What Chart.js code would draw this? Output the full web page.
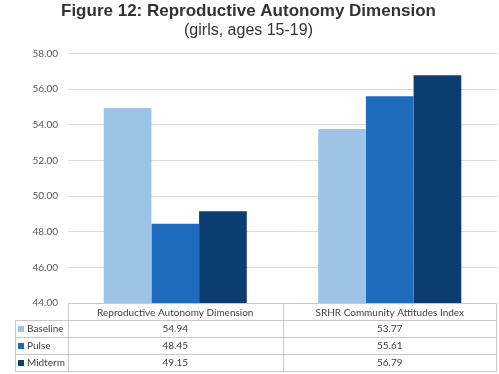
<!DOCTYPE html>
<html lang="en">
<head>
<meta charset="UTF-8">
<title>Figure 12</title>
<script src="https://cdn.jsdelivr.net/npm/chart.js"></script>
<style>
  body { margin: 0; background: #fff; }
  .chartBox { width: 499px; height: 374px; }
</style>
</head>
<body>
<div class="chartBox"><canvas id="myChart"></canvas></div>
<script>
// data
const categories = ['Reproductive Autonomy Dimension', 'SRHR Community Attitudes Index'];
const seriesNames = ['Baseline', 'Pulse', 'Midterm'];
const baseline = [54.94, 53.77];
const pulse = [48.45, 55.61];
const midterm = [49.15, 56.79];
const yMin = 44, yMax = 58, yStep = 2;
const colors = ['#9dc3e6', '#1e6bbb', '#0b3d70'];

const tableFont = '10px Lato';
const rowH = 17;
const lineColor = '#c8c8c8';

// draws the data table under the plot, aligned on the x scale
const dataTable = {
  id: 'dataTable',
  afterDraw(chart) {
    const ctx = chart.ctx;
    const xs = chart.scales.x;
    const area = chart.chartArea;
    const top = Math.round(area.bottom) + 0.5;
    const left = 15.5;
    const axisX = Math.round(area.left) + 0.5;
    const right = Math.round(area.right) - 0.5;
    const mid = Math.round((xs.getPixelForValue(0) + xs.getPixelForValue(1)) / 2) + 0.5;
    const bottom = top + rowH * 4;

    ctx.save();
    ctx.strokeStyle = lineColor;
    ctx.lineWidth = 1;
    ctx.beginPath();
    // header top
    ctx.moveTo(axisX, top); ctx.lineTo(right, top);
    for (let r = 1; r <= 4; r++) {
      ctx.moveTo(left, top + rowH * r); ctx.lineTo(right, top + rowH * r);
    }
    ctx.moveTo(left, top + rowH); ctx.lineTo(left, bottom);
    ctx.moveTo(axisX, top); ctx.lineTo(axisX, bottom);
    ctx.moveTo(mid, top); ctx.lineTo(mid, bottom);
    ctx.moveTo(right, top); ctx.lineTo(right, bottom);
    ctx.stroke();

    const rows = [baseline, pulse, midterm];
    ctx.font = tableFont;
    ctx.textBaseline = 'middle';
    rows.forEach((vals, r) => {
      const cy = top + rowH * (r + 1) + rowH / 2;
      ctx.fillStyle = colors[r];
      ctx.fillRect(18, cy - 3, 6, 6);
      ctx.fillStyle = '#404040';
      ctx.textAlign = 'left';
      ctx.fillText(seriesNames[r], 27, cy);
      ctx.textAlign = 'center';
      vals.forEach((v, i) => {
        ctx.fillText(v.toFixed(2), xs.getPixelForValue(i), cy);
      });
    });
    ctx.restore();
  }
};

const data = {
  labels: categories,
  datasets: [
    { label: seriesNames[0], data: baseline, backgroundColor: colors[0] },
    { label: seriesNames[1], data: pulse, backgroundColor: colors[1] },
    { label: seriesNames[2], data: midterm, backgroundColor: colors[2] }
  ]
};

const config = {
  type: 'bar',
  data,
  plugins: [dataTable],
  options: {
    responsive: true,
    maintainAspectRatio: false,
    animation: false,
    layout: { padding: { left: 0, right: 2, top: 0, bottom: 0 } },
    datasets: {
      bar: { categoryPercentage: 0.667, barPercentage: 1.0 }
    },
    plugins: {
      legend: { display: false },
      tooltip: { enabled: false },
      title: {
        display: true,
        text: 'Figure 12: Reproductive Autonomy Dimension',
        color: '#333333',
        font: { family: 'Liberation Sans', size: 17, weight: 'bold' },
        padding: { top: 1, bottom: 0 }
      },
      subtitle: {
        display: true,
        text: '(girls, ages 15-19)',
        color: '#333333',
        font: { family: 'Liberation Sans', size: 16 },
        padding: { top: 0, bottom: 13 }
      }
    },
    scales: {
      x: {
        grid: { display: false, drawTicks: false },
        border: { display: false },
        ticks: { color: '#404040', font: { family: 'Lato', size: 10 }, padding: 4 },
        afterFit(scale) { scale.height = 71; }
      },
      y: {
        min: yMin,
        max: yMax,
        grid: { color: '#d9d9d9', drawTicks: false },
        border: { display: false },
        ticks: {
          stepSize: yStep,
          padding: 10,
          color: '#595959',
          font: { family: 'Lato', size: 10 },
          callback: v => v.toFixed(2)
        },
        afterFit(scale) { scale.width = 68; }
      }
    }
  }
};

const myChart = new Chart(document.getElementById('myChart'), config);
</script>
</body>
</html>
